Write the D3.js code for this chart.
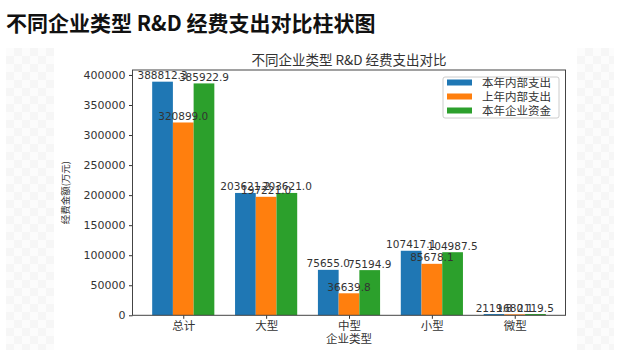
<!DOCTYPE html>
<html><head><meta charset="utf-8">
<script src="https://cdn.jsdelivr.net/npm/d3@7"></script>
<style>body{margin:0;background:#fff}svg{display:block}</style>
</head><body>
<script>
const categories = ["总计","大型","中型","小型","微型"];
const seriesNames = ["本年内部支出","上年内部支出","本年企业资金"];
const thisYearInternal = [388812.3, 203621.2, 75655.0, 107417.1, 2119.8];
const lastYearInternal = [320899.0, 197221.0, 36639.8, 85678.1, 1680.1];
const thisYearCompany = [385922.9, 203621.0, 75194.9, 104987.5, 2119.5];
const yTicks = [0,50000,100000,150000,200000,250000,300000,350000,400000];
const colors = ["#1f77b4","#ff7f0e","#2ca02c"];
const series = [thisYearInternal, lastYearInternal, thisYearCompany];

const W = 621, H = 360;
const svg = d3.select("body").append("svg").attr("width", W).attr("height", H);
const cjk = "'Noto Sans CJK SC', 'DejaVu Sans', sans-serif";
const num = "'DejaVu Sans', sans-serif";

// faint checker panels on the sides
function checker(x0, x1, y0, y1, s) {
  const g = svg.append("g");
  for (let y = y0, r = 0; y < y1; y += s, r++) {
    for (let x = x0, c = 0; x < x1; x += s, c++) {
      g.append("rect").attr("x", x).attr("y", y)
        .attr("width", Math.min(s, x1 - x)).attr("height", Math.min(s, y1 - y))
        .attr("fill", (r + c) % 2 ? "#f6f6f6" : "#fcfcfc");
    }
  }
}
checker(6, 54, 48, 350, 8);
checker(577, 614, 48, 350, 8);

// slide title
svg.append("text").attr("x", 6).attr("y", 31)
  .attr("font-family", cjk).attr("font-weight", "bold").attr("font-size", 21)
  .attr("fill", "#111").text("不同企业类型 R&D 经费支出对比柱状图");

// axes geometry
const L = 132.5, R = 565.5, T = 70, B = 315.3;
const idx = d3.range(categories.length);
const barW = 0.25;
const x = d3.scaleLinear().domain([-0.6125, 4.6125]).range([L, R]);
const ymax = d3.max(series.flat()) * 1.05;
const y = d3.scaleLinear().domain([0, ymax]).range([B, T]);

// bars
series.forEach((vals, s) => {
  const off = (s - 1) * barW;
  svg.append("g").selectAll("rect").data(idx).join("rect")
    .attr("x", i => x(i + off - barW / 2))
    .attr("width", i => x(i + off + barW / 2) - x(i + off - barW / 2))
    .attr("y", i => y(vals[i]))
    .attr("height", i => y(0) - y(vals[i]))
    .attr("fill", colors[s]);
});
// value labels
series.forEach((vals, s) => {
  const off = (s - 1) * barW;
  svg.append("g").selectAll("text").data(idx).join("text")
    .attr("x", i => x(i + off))
    .attr("y", i => y(vals[i]) - 2.5)
    .attr("text-anchor", "middle")
    .attr("font-family", num).attr("font-size", 10.5).attr("fill", "#333")
    .text(i => vals[i].toFixed(1));
});

// axes
const yAxis = d3.axisLeft(y).tickValues(yTicks).tickSize(3.5).tickPadding(3.5).tickFormat(d3.format("d"));
const gy = svg.append("g").attr("transform", `translate(${L},0)`).call(yAxis);
gy.select(".domain").remove();
gy.selectAll("text").attr("font-family", num).attr("font-size", 11).attr("fill", "#333");
gy.selectAll("line").attr("stroke", "#333");

const xAxis = d3.axisBottom(x).tickValues(idx).tickSize(3.5).tickPadding(3.5).tickFormat(i => categories[i]);
const gx = svg.append("g").attr("transform", `translate(0,${B})`).call(xAxis);
gx.select(".domain").remove();
gx.selectAll("text").attr("font-family", cjk).attr("font-size", 11.5).attr("fill", "#333");
gx.selectAll("line").attr("stroke", "#333");

// frame (spines)
svg.append("rect").attr("x", L).attr("y", T).attr("width", R - L).attr("height", B - T)
  .attr("fill", "none").attr("stroke", "#444").attr("stroke-width", 1);

// plot title
svg.append("text").attr("x", (L + R) / 2).attr("y", 65).attr("text-anchor", "middle")
  .attr("font-family", cjk).attr("font-size", 13.5).attr("fill", "#333")
  .text("不同企业类型 R&D 经费支出对比");

// axis titles
svg.append("text").attr("x", (L + R) / 2).attr("y", 343).attr("text-anchor", "middle")
  .attr("font-family", cjk).attr("font-size", 11.5).attr("fill", "#333").text("企业类型");
svg.append("text").attr("transform", `translate(69,${(T + B) / 2}) rotate(-90)`)
  .attr("text-anchor", "middle").attr("font-family", cjk).attr("font-size", 9.5).attr("fill", "#333")
  .text("经费金额(万元)");

// legend
const lg = svg.append("g");
lg.append("rect").attr("x", 443).attr("y", 77).attr("width", 116).attr("height", 41).attr("rx", 2)
  .attr("fill", "#fff").attr("stroke", "#ccc").attr("stroke-width", 1);
seriesNames.forEach((n, s) => {
  const cy = 82.5 + s * 14;
  lg.append("rect").attr("x", 447).attr("y", cy - 3).attr("width", 25).attr("height", 6).attr("fill", colors[s]);
  lg.append("text").attr("x", 482).attr("y", cy + 4).attr("font-family", cjk).attr("font-size", 11.5)
    .attr("fill", "#333").text(n);
});
</script>
</body></html>
